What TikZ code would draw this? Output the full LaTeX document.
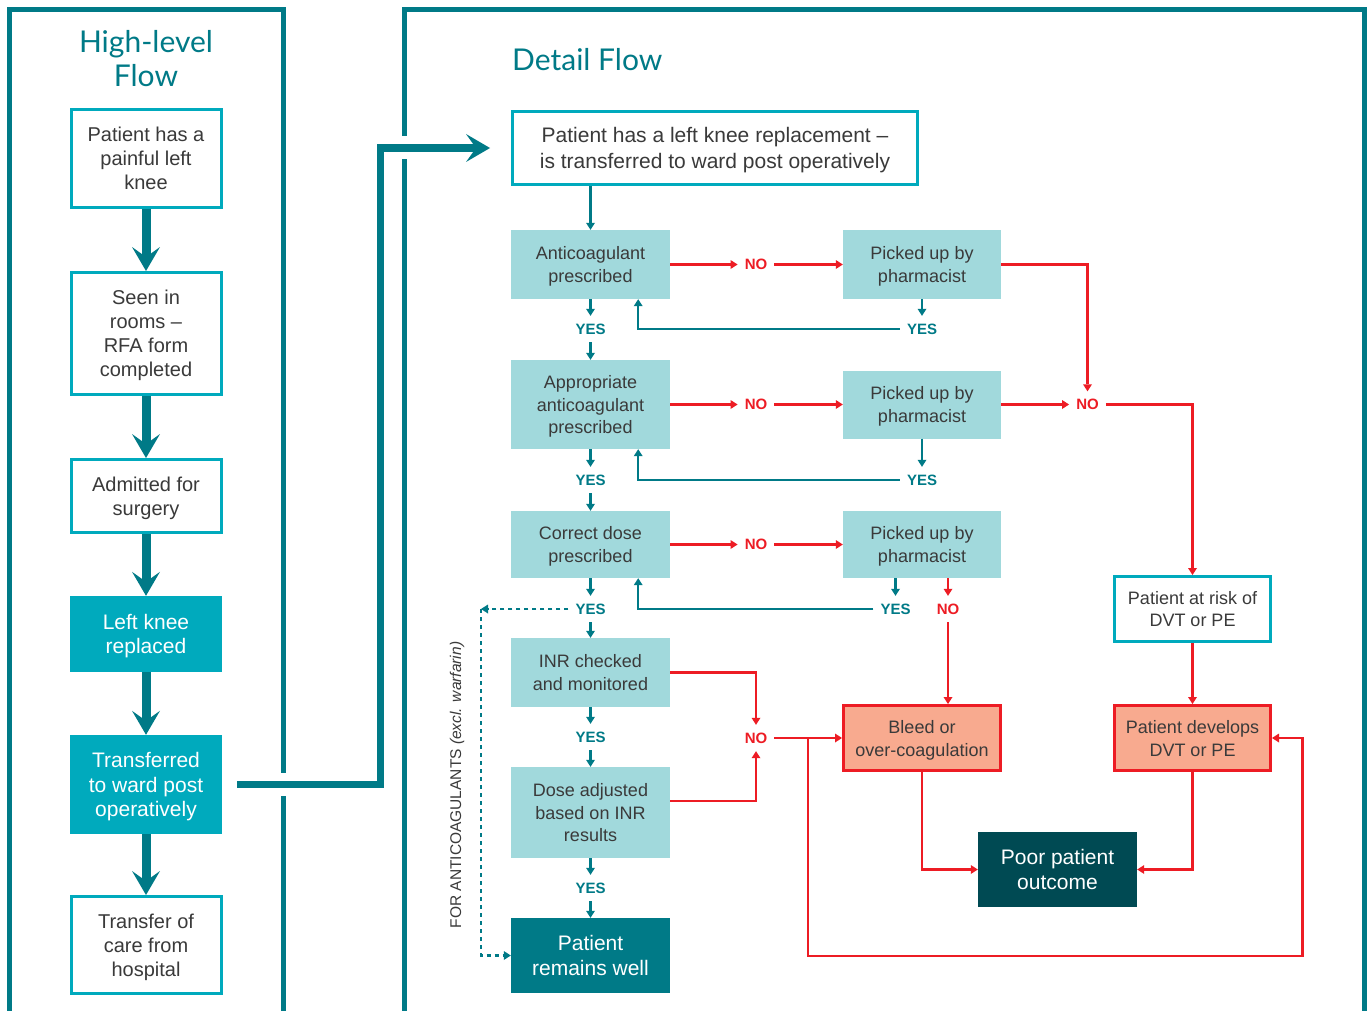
\documentclass[tikz,border=0pt]{standalone}
\usepackage{fontspec}
\setmainfont{Liberation Sans}
\newfontfamily\titlefont{Lato}
\usetikzlibrary{arrows.meta,calc}
\definecolor{teal1}{HTML}{007A87}
\definecolor{cyan1}{HTML}{00AABD}
\definecolor{lightt}{HTML}{A1D9DC}
\definecolor{darkt}{HTML}{004A53}
\definecolor{salm}{HTML}{F8AA8F}
\definecolor{redl}{HTML}{ED1C24}
\definecolor{txt}{HTML}{3A3A3A}
\begin{document}
\begin{tikzpicture}[x=1pt,y=-1pt,
  base/.style={align=center, inner sep=0pt, text=txt, text depth=-2pt},
  hwbox/.style={base, draw=cyan1, line width=3pt, fill=white, minimum width=150pt, font=\fontsize{20}{24}\selectfont},
  hfbox/.style={base, fill=cyan1, text=white, minimum width=152pt, font=\fontsize{21}{24.5}\selectfont},
  lbox/.style={base, fill=lightt, font=\fontsize{18}{22.5}\selectfont},
  dwbox/.style={base, draw=cyan1, line width=3pt, fill=white, font=\fontsize{18}{22}\selectfont},
  rbox/.style={base, draw=redl, line width=3pt, fill=salm, font=\fontsize{18}{23}\selectfont},
  dkbox/.style={base, text=white, font=\fontsize{21}{25}\selectfont},
  lab/.style={font=\bfseries\fontsize{15}{15}\selectfont, inner xsep=7pt, inner ysep=0pt, minimum height=26pt},
  yes/.style={lab, text=teal1},
  no/.style={lab, text=redl},
  tl/.style={draw=teal1, line width=2.5pt, -{Triangle[length=7pt,width=9pt,line width=0pt]}},
  rl/.style={draw=redl, line width=2.5pt, -{Triangle[length=7pt,width=9pt,line width=0pt]}},
  dotl/.style={draw=teal1, line width=2.5pt, dash pattern=on 4pt off 4pt, -{Triangle[length=7pt,width=9pt,line width=0pt]}},
  big/.style={draw=teal1, line width=9pt, -{Stealth[length=24pt,width=28pt,inset=10pt,line width=0pt]}},
  bigh/.style={draw=teal1, line width=7.5pt, -{Stealth[length=24pt,width=28pt,inset=10pt,line width=0pt]}},
  panel/.style={draw=teal1, line width=5pt},
  ttl/.style={font=\titlefont\fontsize{30}{34}\selectfont, text=teal1, align=center, inner sep=0pt},
]
\useasboundingbox (0,0) rectangle (1370,1011);
\fill[white] (0,0) rectangle (1370,1011);

% panels
\draw[panel] (9.5,1011) -- (9.5,9.5) -- (283.5,9.5) -- (283.5,1011);
\draw[panel] (404.5,1011) -- (404.5,9.5) -- (1364.5,9.5) -- (1364.5,1011);

% titles
\node[ttl] (t1) at (146,59) {High-level\\Flow};
\node[ttl, anchor=west] (t2) at (512,60) {Detail Flow};

% high-level flow
\node[hwbox, minimum height=98pt] (L1) at (146,158.5) {Patient has a\\painful left\\knee};
\node[hwbox, minimum height=122pt] (L2) at (146,333.5) {Seen in\\rooms –\\RFA form\\completed};
\node[hwbox, minimum height=73pt] (L3) at (146,496) {Admitted for\\surgery};
\node[hfbox, minimum height=76pt] (L4) at (146,634) {Left knee\\replaced};
\node[hfbox, minimum height=99pt] (L5) at (146,784.5) {Transferred\\to ward post\\operatively};
\node[hwbox, minimum height=97pt] (L6) at (146,945) {Transfer of\\care from\\hospital};

\draw[big] (L1.south) -- (L2.north);
\draw[big] (L2.south) -- (L3.north);
\draw[big] (L3.south) -- (L4.north);
\draw[big] (L4.south) -- (L5.north);
\draw[big] (L5.south) -- (L6.north);

% detail flow nodes
\node[dwbox, font=\fontsize{21}{26}\selectfont, minimum width=405pt, minimum height=73pt] (top) at (715,148) {Patient has a left knee replacement –\\is transferred to ward post operatively};

\node[lbox, minimum width=159pt, minimum height=69pt] (A1) at (590.5,264.5) {Anticoagulant\\prescribed};
\node[lbox, minimum width=159pt, minimum height=89pt] (A2) at (590.5,404.5) {Appropriate\\anticoagulant\\prescribed};
\node[lbox, minimum width=159pt, minimum height=67pt] (A3) at (590.5,544.5) {Correct dose\\prescribed};
\node[lbox, minimum width=159pt, minimum height=69pt] (A4) at (590.5,672.5) {INR checked\\and monitored};
\node[lbox, minimum width=159pt, minimum height=91pt] (A5) at (590.5,812.5) {Dose adjusted\\based on INR\\results};
\node[dkbox, fill=teal1, minimum width=159pt, minimum height=75pt] (A6) at (590.5,955.5) {Patient\\remains well};

\node[lbox, minimum width=158pt, minimum height=69pt] (B1) at (922,264.5) {Picked up by\\pharmacist};
\node[lbox, minimum width=158pt, minimum height=68pt] (B2) at (922,404.5) {Picked up by\\pharmacist};
\node[lbox, minimum width=158pt, minimum height=67pt] (B3) at (922,544.5) {Picked up by\\pharmacist};

\node[rbox, minimum width=157pt, minimum height=65pt] (Bleed) at (922,738) {Bleed or\\over-coagulation};
\node[dwbox, minimum width=156pt, minimum height=65pt] (Risk) at (1192.5,609) {Patient at risk of\\DVT or PE};
\node[rbox, minimum width=156pt, minimum height=65pt] (DVT) at (1192.5,738) {Patient develops\\DVT or PE};
\node[dkbox, fill=darkt, minimum width=159pt, minimum height=75pt] (Poor) at (1057.5,869.5) {Poor patient\\outcome};

% labels
\node[yes] (yes1) at (590.5,329) {YES};
\node[yes] (yes2) at (922,329) {YES};
\node[no] (no1) at (756,264.5) {NO};
\node[no] (no2) at (756,404.5) {NO};
\node[no] (no4) at (1087.5,404.5) {NO};
\node[yes] (yes3) at (590.5,480) {YES};
\node[yes] (yes4) at (922,480) {YES};
\node[no] (no3) at (756,544.5) {NO};
\node[yes] (yes5) at (590.5,609) {YES};
\node[yes] (yes6) at (895.5,609) {YES};
\node[no] (nob) at (948,609) {NO};
\node[yes] (yes7) at (590.5,737) {YES};
\node[no] (no5) at (756,738) {NO};
\node[yes] (yes8) at (590.5,888) {YES};

\node[rotate=90, font=\fontsize{15.5}{16}\selectfont, text=txt, inner sep=0pt] (rt) at (457,785) {FOR ANTICOAGULANTS \textit{(excl. warfarin)}};

% big transfer arrow
\coordinate (bs) at ([xshift=15pt]L5.east);
\coordinate (bc1) at (380.5,784.5);
\coordinate (bc2) at (380.5,148);
\coordinate (be) at ([xshift=-21pt]top.west);
\draw[white, line width=23pt] (bs) -- (bc1) -- (bc2) -- ([xshift=-30pt]be);
\draw[bigh] (bs) -- (bc1) -- (bc2) -- (be);

% teal connectors
\draw[tl] (A1.north |- top.south) -- (A1.north);
\draw[tl] (A1.south) -- (yes1.north);
\draw[tl] (yes1.south) -- (A2.north);
\draw[tl] (B1.south) -- (yes2.north);
\draw[tl] (yes2.west) -| ([xshift=-32pt]A1.south east);
\draw[tl] (A2.south) -- (yes3.north);
\draw[tl] (yes3.south) -- (A3.north);
\draw[tl] (B2.south) -- (yes4.north);
\draw[tl] (yes4.west) -| ([xshift=-32pt]A2.south east);
\draw[tl] (A3.south) -- (yes5.north);
\draw[tl] (yes5.south) -- (A4.north);
\draw[tl] (B3.south -| yes6.north) -- (yes6.north);
\draw[tl] (yes6.west) -| ([xshift=-32pt]A3.south east);
\draw[tl] (A4.south) -- (yes7.north);
\draw[tl] (yes7.south) -- (A5.north);
\draw[tl] (A5.south) -- (yes8.north);
\draw[tl] (yes8.south) -- (A6.north);

% dotted bypass
\coordinate (cd) at (481,609);
\draw[dotl] (yes5.west) -- (cd);
\draw[dotl] (cd) |- (A6.west);

% red connectors
\draw[rl] (A1.east) -- (no1.west);
\draw[rl] (no1.east) -- (B1.west);
\draw[rl] (A2.east) -- (no2.west);
\draw[rl] (no2.east) -- (B2.west);
\draw[rl] (A3.east) -- (no3.west);
\draw[rl] (no3.east) -- (B3.west);
\draw[rl] (B1.east) -| (no4.north);
\draw[rl] (B2.east) -- (no4.west);
\draw[rl] (no4.east) -| (Risk.north);
\draw[rl] (B3.south -| nob.north) -- (nob.north);
\draw[rl] (nob.south) -- (nob.south |- Bleed.north);
\draw[rl] (A4.east) -| (no5.north);
\draw[rl] ($(A5.east)+(0,-11.5)$) -| (no5.south);
\draw[rl] (no5.east) -- (Bleed.west);
\coordinate (br) at ($(no5.east)+(33.5,0)$);
\coordinate (bl) at (1302.5,956);
\draw[rl] (br) |- (bl) |- (DVT.east);
\draw[rl] (Risk.south) -- (DVT.north);
\draw[rl] (Bleed.south) |- (Poor.west);
\draw[rl] (DVT.south) |- (Poor.east);
\end{tikzpicture}
\end{document}
